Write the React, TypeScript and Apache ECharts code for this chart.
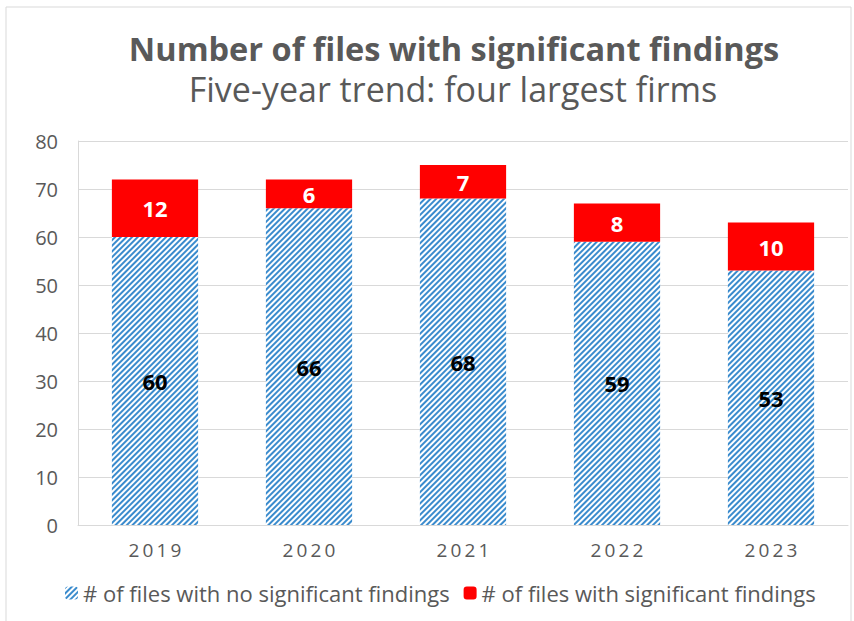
import React, { useEffect, useRef } from "react";
import * as echarts from "echarts";

const years = ["2019", "2020", "2021", "2022", "2023"];
const noFindings = [60, 66, 68, 59, 53];
const withFindings = [12, 6, 7, 8, 10];
const seriesNames = [
  "# of files with no significant findings",
  "# of files with significant findings",
];
const titleText = "Number of files with significant findings";
const subtitleText = "Five-year trend: four largest firms";

const FONT = "'Open Sans', 'Noto Sans', sans-serif";

export default function App() {
  const ref = useRef<HTMLDivElement>(null);
  useEffect(() => {
    document.body.style.margin = "0";
    const chart = echarts.init(ref.current!, null, { renderer: "svg" });
    chart.setOption({
      animation: false,
      backgroundColor: "#ffffff",
      textStyle: { fontFamily: FONT },
      graphic: [
        {
          type: "rect",
          shape: { x: 6, y: 7, width: 845, height: 620 },
          style: { fill: "none", stroke: "#d9d9d9", lineWidth: 1 },
          silent: true,
          z: -1,
        },
        {
          type: "text",
          x: 454,
          y: 48,
          style: {
            text: titleText,
            fill: "#595959",
            font: `bold 32.5px ${FONT}`,
            textAlign: "center",
            textVerticalAlign: "middle",
          },
        },
        {
          type: "text",
          x: 453,
          y: 89,
          style: {
            text: subtitleText,
            fill: "#595959",
            font: `normal 34px ${FONT}`,
            textAlign: "center",
            textVerticalAlign: "middle",
          },
        },
      ],
      grid: { left: 78, right: 6, top: 141, bottom: 96, containLabel: false },
      legend: {
        bottom: 12,
        left: 60,
        itemWidth: 13,
        itemHeight: 13,
        itemGap: 14,
        textStyle: { fontSize: 22, color: "#595959", fontFamily: FONT },
        data: seriesNames,
      },
      xAxis: {
        type: "category",
        data: years,
        axisLine: { lineStyle: { color: "#d9d9d9" } },
        axisTick: { show: false },
        axisLabel: {
          fontSize: 19,
          color: "#595959",
          margin: 15,
          formatter: (v: string) => v.split("").join("\u2009"),
        },
      },
      yAxis: {
        type: "value",
        min: 0,
        max: 80,
        interval: 10,
        axisLine: { show: true, lineStyle: { color: "#d9d9d9" } },
        axisTick: { show: false },
        splitLine: { lineStyle: { color: "#d9d9d9" } },
        axisLabel: { fontSize: 20, color: "#595959", margin: 20 },
      },
      series: [
        {
          name: seriesNames[0],
          type: "bar",
          stack: "total",
          barWidth: "56%",
          data: noFindings,
          itemStyle: {
            color: "#ffffff",
            decal: {
              symbol: "rect",
              symbolSize: 1,
              dashArrayX: [1, 0],
              dashArrayY: [1.3, 1.9],
              rotation: -Math.PI / 4,
              color: "#3a8bcd",
            },
          },
          label: {
            show: true,
            position: "inside",
            fontSize: 22,
            fontWeight: "bold",
            color: "#000000",
          },
        },
        {
          name: seriesNames[1],
          type: "bar",
          stack: "total",
          barWidth: "56%",
          data: withFindings,
          itemStyle: { color: "#ff0000" },
          label: {
            show: true,
            position: "inside",
            fontSize: 22,
            fontWeight: "bold",
            color: "#ffffff",
          },
        },
      ],
    });
    return () => chart.dispose();
  }, []);
  return <div ref={ref} style={{ width: 854, height: 621 }} />;
}
